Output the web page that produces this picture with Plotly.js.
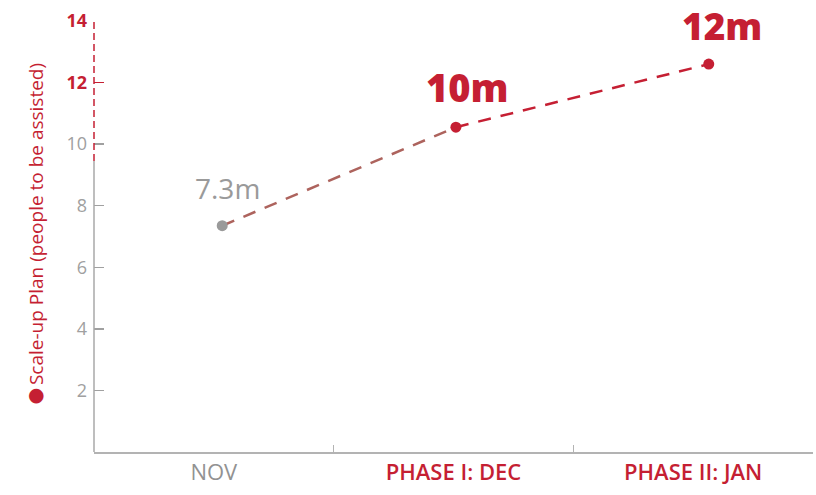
<!DOCTYPE html>
<html><head><meta charset="utf-8">
<script src="https://cdn.plot.ly/plotly-3.0.1.min.js"></script>
<style>html,body{margin:0;padding:0;background:#fff}#chart{width:816px;height:495px}</style>
</head><body><div id="chart"></div>
<script>
// Data
var categories = ["NOV", "PHASE I: DEC", "PHASE II: JAN"];
var pointPos = [0.535, 1.51, 2.565];
var values = [7.35, 10.55, 12.6];
var pointLabels = ["7.3m", "10m", "12m"];
var greyTicks = [2, 4, 6, 8, 10];
var redTicks = [12, 14];

var RED = '#c51f33', GREY = '#9a9a9a', AXIS = '#b3b3b3';
var FONT = '"Open Sans", sans-serif';

var traces = [
  {x: pointPos.slice(0, 2), y: values.slice(0, 2), mode: 'lines', type: 'scatter',
   line: {color: '#ad635d', width: 2.5, dash: '13px,10px'}, hoverinfo: 'skip'},
  {x: pointPos.slice(1, 3), y: values.slice(1, 3), mode: 'lines', type: 'scatter',
   line: {color: RED, width: 2.5, dash: '13px,10px'}, hoverinfo: 'skip'},
  {x: pointPos, y: values, mode: 'markers', type: 'scatter',
   marker: {size: 11, color: [GREY, RED, RED]}, hoverinfo: 'skip'},
  {x: [], y: [], xaxis: 'x2', yaxis: 'y2', type: 'scatter', hoverinfo: 'skip'}
];

var labelStyles = [
  {size: 28, color: GREY, weight: 400, xs: 5, ys: 38},
  {size: 38, color: RED, weight: 800, xs: 12, ys: 40},
  {size: 37, color: RED, weight: 800, xs: 13, ys: 39}
];
var annotations = pointLabels.map(function (t, i) {
  var s = labelStyles[i];
  return {x: pointPos[i], y: values[i], xref: 'x', yref: 'y', showarrow: false,
    text: t, xshift: s.xs, yshift: s.ys, borderpad: 0,
    font: {family: FONT, size: s.size, color: s.color, weight: s.weight}};
});
annotations.push({xref: 'paper', yref: 'paper', x: -0.08, y: 0.53, xanchor: 'center', yanchor: 'middle',
  showarrow: false, textangle: -90, text: 'Scale-up Plan (people to be assisted)',
  font: {family: FONT, size: 19, color: RED}, xshift: -1});
annotations.push({xref: 'paper', yref: 'y', x: 0, y: 1.9, xanchor: 'center', yanchor: 'middle',
  showarrow: false, text: '●', xshift: -58, font: {family: 'DejaVu Sans', size: 19, color: RED}});

var layout = {
  width: 816, height: 495,
  margin: {l: 94, r: 3, t: 21, b: 43},
  paper_bgcolor: '#fff', plot_bgcolor: '#fff',
  showlegend: false,
  xaxis: {range: [0, 3], tickvals: [0.5, 1.5, 2.5],
    ticktext: categories.map(function (c, i) {
      return i === 0 ? c : '<span style="color:' + RED + ';font-weight:600">' + c + '</span>';
    }),
    ticks: '', showline: true, linecolor: AXIS, linewidth: 2, showgrid: false, zeroline: false,
    tickfont: {family: FONT, size: 22, color: '#929292'}, fixedrange: true},
  xaxis2: {overlaying: 'x', anchor: 'y', range: [0, 3], tickvals: [1, 2, 3], ticks: 'inside',
    ticklen: 7, tickwidth: 1.5, tickcolor: AXIS, showticklabels: false, showline: false,
    showgrid: false, zeroline: false},
  yaxis: {range: [0, 14], tickvals: greyTicks, ticks: 'inside', ticklen: 10, tickwidth: 1.5,
    tickcolor: '#a0a0a0', showline: false, showgrid: false, zeroline: false,
    tickfont: {family: FONT, size: 18, color: '#a0a0a0'}, ticklabelstandoff: 6},
  yaxis2: {overlaying: 'y', side: 'left', anchor: 'x', range: [0, 14], tickvals: redTicks,
    ticktext: redTicks.map(function (v) { return '<b>' + v + '</b>'; }),
    ticks: 'inside', ticklen: 10, tickwidth: 1.5, tickcolor: RED, showline: false,
    showgrid: false, zeroline: false, tickfont: {family: FONT, size: 18, color: RED},
    ticklabelstandoff: 6},
  shapes: [
    {type: 'line', xref: 'paper', yref: 'y', x0: 0, x1: 0, y0: 0, y1: 9.45,
     line: {color: '#a8a8a8', width: 1.5}},
    {type: 'line', xref: 'paper', yref: 'y', x0: 0, x1: 0, y0: 9.45, y1: 14,
     line: {color: RED, width: 1.5, dash: '7px,4px'}}
  ],
  annotations: annotations
};

Plotly.newPlot('chart', traces, layout, {displayModeBar: false, staticPlot: true});
</script></body></html>
